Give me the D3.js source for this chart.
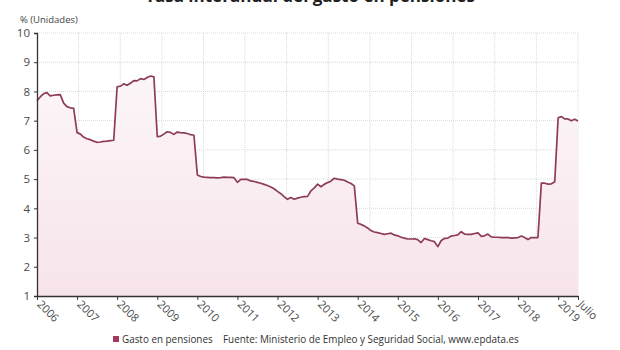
<!DOCTYPE html>
<html><head><meta charset="utf-8">
<script src="https://cdn.jsdelivr.net/npm/d3@7"></script>
<style>
html,body{margin:0;padding:0;background:#fff;}
svg{display:block;font-family:"Open Sans",sans-serif;}
</style></head>
<body><svg id="c" width="620" height="350"></svg>
<script>
const title = "Tasa interanual del gasto en pensiones";
const yUnit = "% (Unidades)";
const seriesName = "Gasto en pensiones";
const source = "Fuente: Ministerio de Empleo y Seguridad Social, www.epdata.es";
const startYear = 2006, startMonth = 0; // Jan 2006 .. Jul 2019 monthly
const values = [
 7.68,7.82,7.92,7.96,7.85,7.87,7.88,7.89,7.60,7.48,7.44,7.42,
 6.59,6.54,6.44,6.38,6.35,6.30,6.26,6.27,6.29,6.30,6.32,6.33,
 8.16,8.18,8.26,8.21,8.28,8.37,8.36,8.44,8.41,8.48,8.53,8.50,
 6.45,6.47,6.54,6.62,6.60,6.53,6.61,6.59,6.58,6.56,6.52,6.50,
 5.14,5.09,5.07,5.06,5.05,5.05,5.04,5.05,5.07,5.06,5.06,5.05,
 4.89,4.99,4.99,4.99,4.94,4.92,4.89,4.86,4.82,4.78,4.73,4.67,
 4.58,4.50,4.40,4.31,4.37,4.31,4.35,4.38,4.40,4.41,4.60,4.70,
 4.83,4.74,4.82,4.88,4.93,5.03,5.00,4.98,4.96,4.90,4.85,4.77,
 3.49,3.45,3.40,3.33,3.24,3.19,3.17,3.14,3.11,3.13,3.15,3.09,
 3.06,3.01,2.98,2.95,2.95,2.96,2.93,2.83,2.97,2.93,2.89,2.86,
 2.69,2.90,2.97,2.98,3.05,3.07,3.09,3.20,3.12,3.11,3.11,3.14,
 3.16,3.04,3.06,3.12,3.02,3.01,3.01,3.00,3.00,3.00,2.98,2.99,
 3.00,3.05,3.00,2.93,3.00,3.00,3.00,4.86,4.86,4.83,4.84,4.91,
 7.10,7.14,7.06,7.06,7.00,7.05,6.99
];
const yTicks = [1,2,3,4,5,6,7,8,9,10];
const xTickYears = [2006,2007,2008,2009,2010,2011,2012,2013,2014,2015,2016,2017,2018,2019];
const lastLabel = "Julio";

const dates = values.map((v,i)=> new Date(startYear, startMonth + i, 1));
const data = values.map((v,i)=>({d:dates[i], v}));

const svg = d3.select("#c");
const m = {l:37, r:42, t:33, b:54};
const W = 620, H = 350;
const x = d3.scaleTime().domain([dates[0], dates[dates.length-1]]).range([m.l, W - m.r]);
const y = d3.scaleLinear().domain([1,10]).range([H - m.b, m.t]);

// gradient
const defs = svg.append("defs");
const g = defs.append("linearGradient").attr("id","ag")
  .attr("gradientUnits","userSpaceOnUse").attr("x1",0).attr("x2",0).attr("y1",y(8.6)).attr("y2",y(1));
g.append("stop").attr("offset","0%").attr("stop-color","#fcf6f8");
g.append("stop").attr("offset","100%").attr("stop-color","#f7e4ea");

// grid horizontal
svg.append("g").selectAll("line").data(yTicks).join("line")
  .attr("x1", m.l).attr("x2", W - m.r).attr("y1", d=>y(d)).attr("y2", d=>y(d))
  .attr("stroke","#d9d9d9").attr("stroke-width",1).attr("stroke-dasharray","1,1");
// grid vertical (13 equal divisions)
const nV = 13;
const vg = d3.range(1, nV+1).map(i => m.l + i*(W - m.r - m.l)/nV);
svg.append("g").selectAll("line").data(vg).join("line")
  .attr("x1", d=>d).attr("x2", d=>d).attr("y1", m.t).attr("y2", H - m.b)
  .attr("stroke","#d9d9d9").attr("stroke-width",1).attr("stroke-dasharray","1,1");

// area
svg.append("path").datum(data)
  .attr("d", d3.area().x(d=>x(d.d)).y0(y(1)).y1(d=>y(d.v)))
  .attr("fill","url(#ag)");
svg.append("path").datum(data)
  .attr("d", d3.line().x(d=>x(d.d)).y(d=>y(d.v)))
  .attr("fill","none").attr("stroke","#8e3b5a").attr("stroke-width",1.7).attr("stroke-linejoin","round");

// y axis
const ya = svg.append("g").attr("transform",`translate(${m.l},0)`)
  .call(d3.axisLeft(y).tickValues(yTicks).tickSize(3).tickPadding(4).tickFormat(d3.format("d")));
ya.select(".domain").attr("stroke","#333").attr("stroke-width",1.3);
ya.selectAll(".tick line").attr("stroke","#333");
ya.selectAll("text").attr("font-size",11.5).attr("fill","#4a4a4a").attr("font-family","Open Sans");

// x axis
const xTickDates = xTickYears.map(yy=>new Date(yy,0,1)).concat([dates[dates.length-1]]);
const xa = svg.append("g").attr("transform",`translate(0,${H - m.b})`)
  .call(d3.axisBottom(x).tickValues(xTickDates).tickSize(4).tickSizeOuter(0)
    .tickFormat((d,i)=> i < xTickYears.length ? String(xTickYears[i]) : lastLabel));
xa.select(".domain").attr("stroke","#333").attr("stroke-width",1.3);
xa.selectAll(".tick line").attr("stroke","#333");
xa.selectAll("text").attr("font-size",11).attr("fill","#4a4a4a").attr("font-family","Open Sans")
  .attr("text-anchor","start").attr("dy",0).attr("y",0)
  .attr("transform","translate(-1,9) rotate(45)");

// title (cut off at top, as in the reference)
svg.append("text").attr("x",310).attr("y",2).attr("text-anchor","middle")
  .attr("font-size",17).attr("font-weight","bold").attr("fill","#222").text(title);
svg.append("text").attr("x",20).attr("y",23).attr("font-size",9.5).attr("fill","#444").text(yUnit);

// legend
svg.append("rect").attr("x",113).attr("y",336).attr("width",6).attr("height",6).attr("fill","#a53a61");
svg.append("text").attr("x",122).attr("y",343).attr("font-size",9.9).attr("fill","#333").text(seriesName);
svg.append("text").attr("x",223).attr("y",343).attr("font-size",9.9).attr("fill","#333").text(source);
</script></body></html>
